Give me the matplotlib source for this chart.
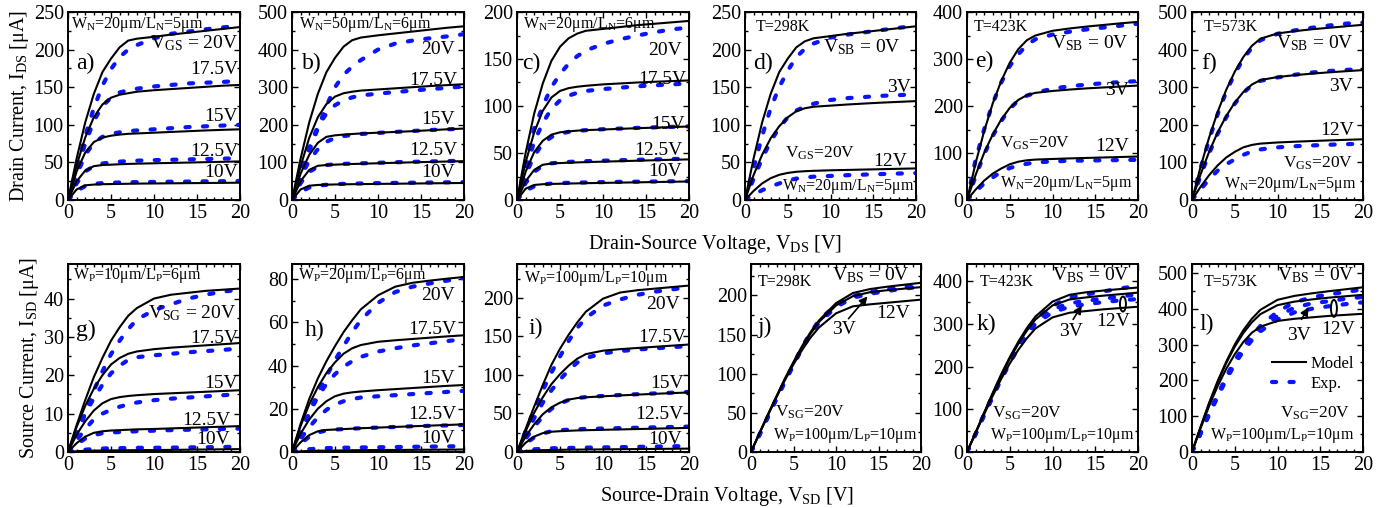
import matplotlib
matplotlib.use('Agg')
import matplotlib.pyplot as plt
from matplotlib.lines import Line2D
from matplotlib.patches import Ellipse
from matplotlib.ticker import MultipleLocator

plt.rcParams['font.family'] = ['Liberation Serif', 'DejaVu Serif']
plt.rcParams['mathtext.fontset'] = 'custom'
plt.rcParams['mathtext.rm'] = 'Liberation Serif'
plt.rcParams['mathtext.it'] = 'Liberation Serif:italic'

# === DATA ===
V = [0, 1, 2, 3, 4, 5, 6, 7, 8, 10, 12, 14, 16, 18, 20]

# a) nMOS W/L=20/5, VGS = 20, 17.5, 15, 12.5, 10 V
a_model = [[0, 55, 103, 141, 170, 188, 203, 212, 214.5, 217, 220, 222.5, 225, 227.5, 230],
           [0, 46, 83, 110, 127, 136, 140, 142, 144, 146, 147.5, 149, 150.5, 152, 153],
           [0, 38, 63, 77, 83, 85.5, 87, 88, 88.5, 89.5, 90.5, 91.5, 92.5, 93.3, 94],
           [0, 25, 39, 45, 46.5, 47, 47.5, 48, 48.3, 48.8, 49.3, 49.8, 50.3, 50.8, 51.3],
           [0, 14, 19.5, 20.5, 21, 21.2, 21.4, 21.6, 21.8, 22, 22.2, 22.4, 22.6, 22.8, 23]]
a_exp = [[0, 40, 85, 122, 152, 174, 190, 200, 206, 215, 221, 224, 227, 229.5, 232],
         [0, 38, 75, 105, 125, 136, 143, 146, 148, 151, 153, 155, 156, 157, 158.5],
         [0, 33, 60, 76, 84, 88, 90, 91.5, 92.5, 94, 95.5, 97, 98, 99, 100],
         [0, 22, 38, 45, 48.5, 50, 51, 51.8, 52.3, 53, 53.5, 54, 54.5, 55, 55.5],
         [0, 12, 18.5, 21.5, 22.5, 23, 23.3, 23.6, 23.8, 24, 24.3, 24.5, 24.8, 25, 25.3]]

# b) nMOS W/L=50/6
b_model = [[0, 110, 206, 282, 340, 378, 408, 425, 432, 438, 443, 448, 453, 458, 462],
           [0, 90, 165, 220, 255, 275, 284, 288, 291, 294, 297, 300, 303, 305.5, 308],
           [0, 70, 120, 152, 168, 172, 174, 175.5, 177, 179, 181, 183, 185.5, 188, 190],
           [0, 50, 80, 91, 93, 94, 95, 95.7, 96.4, 97.7, 99, 100.2, 101.3, 102.3, 103.3],
           [0, 28, 38, 40, 40.8, 41.3, 41.7, 42, 42.3, 42.8, 43.3, 43.8, 44.3, 44.8, 45.3]]
b_exp = [[0, 48, 130, 190, 250, 300, 333, 355, 372, 400, 416, 424, 430, 435, 441],
         [0, 75, 140, 195, 230, 252, 265, 273, 278, 283, 287, 291, 295, 298, 302],
         [0, 60, 105, 135, 155, 165, 170, 173, 175.5, 178.5, 181, 183.5, 186, 188, 190],
         [0, 45, 75, 88, 93, 95, 96, 97, 97.5, 99, 100.5, 101.5, 102.5, 103.5, 104.5],
         [0, 22, 33, 38, 40.5, 42, 43, 43.5, 44, 44.8, 45.5, 46, 46.5, 47, 47.5]]

# c) nMOS W/L=20/6
c_model = [[0, 50, 92, 124, 148, 163, 172, 177, 180, 182, 184, 186, 187.5, 189, 190.5],
           [0, 40, 72, 95, 109, 116, 119, 120.5, 121.5, 123, 124, 125, 125.8, 126.5, 127.2],
           [0, 30, 51, 63, 69.5, 72, 73, 73.8, 74.3, 75, 75.7, 76.4, 77, 77.6, 78.2],
           [0, 20, 32, 37.5, 38.8, 39.3, 39.7, 40, 40.3, 40.8, 41.3, 41.8, 42.3, 42.8, 43.2],
           [0, 12, 16, 16.8, 17.1, 17.3, 17.5, 17.7, 17.9, 18.2, 18.5, 18.8, 19.1, 19.4, 19.7]]
c_exp = [[0, 40, 76, 100, 120, 134, 145, 153, 159, 166, 171, 175, 178.5, 181.5, 183.5],
         [0, 33, 62, 82, 97, 106, 111, 114, 116, 118, 119.5, 121, 122, 123, 124],
         [0, 27, 47, 60, 67, 70.5, 72.5, 73.5, 74.3, 75.3, 76, 76.7, 77.3, 77.8, 78.3],
         [0, 18, 30, 36.5, 39, 40, 40.5, 41, 41.3, 41.8, 42.3, 42.8, 43.2, 43.6, 44],
         [0, 10, 14.5, 16.5, 17.5, 18, 18.3, 18.5, 18.7, 19, 19.3, 19.5, 19.7, 19.9, 20.1]]

# d) e) f) nMOS VGS=20V, VSB = 0, 3, 12 V at 298 / 423 / 573 K
d_model = [[0, 55, 103, 141, 170, 188, 203, 211, 215, 218, 221, 223.5, 226, 228.5, 231],
           [0, 33, 60, 82, 98, 110, 118, 122, 124, 125.5, 127, 128.3, 129.5, 130.5, 131.5],
           [0, 12, 22, 29, 33.5, 36, 37.5, 38.3, 38.8, 39.5, 40, 40.5, 41, 41.5, 42]]
d_exp = [[0, 42, 85, 122, 150, 172, 190, 201, 208, 216, 220, 223, 226, 229, 231.5],
         [0, 28, 55, 78, 96, 110, 119, 124, 128, 133, 135.5, 137, 138.5, 139.5, 140.5],
         [0, 7, 13, 18, 22, 26, 28.5, 30, 31, 32, 33, 33.8, 34.5, 35.2, 35.8]]

e_model = [[0, 78, 146, 205, 253, 292, 321, 340, 350, 360, 365, 369, 372.5, 376, 379],
           [0, 53, 100, 139, 171, 196, 213, 223, 228, 232, 235, 237.5, 239.5, 241.5, 243.5],
           [0, 22, 41, 56, 67, 76, 81.5, 84.5, 86, 87.3, 88.5, 89.5, 90.5, 91.5, 92.5]]
e_exp = [[0, 85, 150, 205, 250, 285, 310, 330, 342, 352, 358, 363, 367, 371, 375],
         [0, 50, 97, 136, 168, 194, 212, 222, 228, 237, 242, 245.5, 248.5, 251, 253],
         [0, 18, 35, 48, 60, 68, 73.5, 77, 80, 82, 83.5, 84, 84.5, 85, 85.5]]

f_model = [[0, 88, 166, 234, 293, 341, 380, 410, 429, 443, 449, 454, 458, 462, 466],
           [0, 68, 128, 180, 223, 259, 287, 307, 319, 327, 332, 336, 339.5, 342.5, 345.5],
           [0, 35, 66, 92, 113, 128, 140, 146.5, 150, 153, 155, 156.8, 158.5, 160, 161.5]]
f_exp = [[0, 85, 160, 228, 288, 336, 375, 405, 425, 442, 451, 458, 464, 469, 472],
         [0, 64, 124, 176, 220, 256, 285, 305, 317, 326, 333, 339, 343, 346, 348],
         [0, 28, 55, 78, 95, 108, 120, 129, 134.5, 140, 143, 145, 147, 148.5, 149.5]]

# g) h) i) pMOS, VSG = 20, 17.5, 15, 12.5, 10 V
g_model = [[0, 7, 13.5, 19.5, 24.5, 29, 32.5, 35.5, 37.5, 40, 41, 41.5, 42, 42.3, 42.6],
           [0, 6.5, 12, 16.5, 20, 22.8, 24.5, 25.6, 26.2, 26.8, 27.2, 27.5, 27.8, 28.1, 28.4],
           [0, 4.5, 8, 10.8, 12.7, 13.8, 14.3, 14.6, 14.8, 15.1, 15.3, 15.5, 15.7, 15.9, 16.1],
           [0, 2.3, 4, 5, 5.4, 5.6, 5.7, 5.8, 5.9, 6.0, 6.15, 6.3, 6.45, 6.6, 6.75],
           [0, 0.2, 0.3, 0.35, 0.4, 0.42, 0.44, 0.46, 0.48, 0.5, 0.55, 0.6, 0.65, 0.7, 0.75]]
g_exp = [[0, 4.5, 10, 16, 21, 25.5, 29, 32, 34.5, 37, 38.5, 40, 41, 41.8, 42.3],
         [0, 5, 10, 14, 17.5, 20.5, 22.5, 24, 24.7, 25.2, 25.6, 26, 26.3, 26.6, 27],
         [0, 3, 6, 8.5, 10, 11, 11.8, 12.4, 12.9, 13.5, 13.9, 14.2, 14.5, 14.8, 15.1],
         [0, 2, 3.5, 4.4, 4.9, 5.1, 5.2, 5.3, 5.4, 5.55, 5.7, 5.8, 5.9, 6.0, 6.1],
         [0, 0.3, 0.6, 0.8, 0.9, 1.0, 1.0, 1.05, 1.1, 1.1, 1.15, 1.2, 1.25, 1.3, 1.4]]

h_model = [[0, 13, 24.5, 34, 42, 49, 55.5, 61, 66, 72.5, 76.5, 78.3, 79.3, 80.2, 81],
           [0, 12, 22, 30, 36.5, 41.5, 45.5, 48, 49.5, 51, 51.7, 52.3, 52.9, 53.5, 54],
           [0, 8.5, 15, 20, 23.5, 25.8, 27, 27.6, 28, 28.6, 29.1, 29.6, 30.1, 30.6, 31],
           [0, 4.5, 7.8, 9.6, 10.2, 10.4, 10.6, 10.8, 11, 11.3, 11.6, 11.9, 12.2, 12.5, 12.8],
           [0, 0.3, 0.5, 0.6, 0.65, 0.7, 0.75, 0.8, 0.85, 0.9, 0.95, 1.0, 1.05, 1.1, 1.15]]
h_exp = [[0, 8, 18, 27.5, 35, 42.5, 49, 55.5, 61, 69, 74, 76.5, 78, 79.3, 80.5],
         [0, 9, 18, 25.5, 31.5, 36, 39.5, 42, 44, 46.5, 48, 49.3, 50.3, 51.3, 52.3],
         [0, 6, 11.5, 16, 19.5, 22, 23.5, 24.5, 25.2, 25.8, 26.3, 26.8, 27.3, 27.8, 28.3],
         [0, 4, 7, 9, 10, 10.4, 10.6, 10.8, 11, 11.3, 11.6, 11.9, 12.1, 12.3, 12.5],
         [0, 0.8, 1.3, 1.6, 1.8, 1.9, 2.0, 2.0, 2.1, 2.2, 2.3, 2.4, 2.5, 2.6, 2.7]]

i_model = [[0, 30, 59, 87, 113, 134, 152, 168, 182, 199, 207, 210, 212, 214, 216],
           [0, 27, 51, 71, 88, 101, 112, 121, 127, 131.5, 133.5, 135, 136.5, 138, 139.5],
           [0, 20, 36, 49, 58, 64, 68, 70, 71, 72.3, 73.4, 74.5, 75.5, 76.4, 77.3],
           [0, 12, 20, 24.5, 26.3, 27, 27.5, 28, 28.3, 28.8, 29.3, 29.8, 30.3, 30.8, 31.3],
           [0, 1.2, 2, 2.4, 2.6, 2.8, 3.0, 3.1, 3.2, 3.4, 3.6, 3.8, 4.0, 4.2, 4.4]]
i_exp = [[0, 27, 55, 80, 103, 124, 144, 161, 174, 190, 198, 204, 208, 211, 214],
         [0, 22, 44, 64, 80, 94, 106, 116, 122, 128, 131, 133, 134.5, 136, 137.5],
         [0, 17, 33, 46, 56, 63, 67.5, 70, 71.3, 72.7, 74, 75, 76, 77, 78],
         [0, 11, 19, 24, 27, 28.3, 29, 29.5, 30, 30.5, 31, 31.5, 32, 32.5, 33],
         [0, 2, 3.5, 4.3, 4.8, 5.0, 5.3, 5.5, 5.7, 6.0, 6.3, 6.7, 7.0, 7.4, 7.8]]

# j) k) l) pMOS VSG=20V, VBS = 0, 3, 12 V at 298 / 423 / 573 K
j_model = [[0, 24, 48, 71, 94, 115, 135, 153, 168, 190, 203, 208, 211, 213.5, 216],
           [0, 24, 48, 71, 93, 114, 134, 151, 166, 187, 199, 204, 206.5, 208.5, 210.5],
           [0, 24, 47, 70, 92, 112, 130, 146, 159, 177, 186, 188.5, 190.5, 192.5, 194.5]]
j_exp = [[0, 22, 45, 68, 90, 112, 134, 152, 168, 188, 199, 204, 208, 211, 213],
         [0, 22, 45, 68, 90, 111, 132, 150, 165, 185, 197, 202, 205.5, 208.5, 211]]

k_model = [[0, 45, 92, 138, 182, 222, 258, 290, 317, 352, 368, 374, 378, 381.5, 385],
           [0, 45, 91, 136, 179, 218, 253, 284, 310, 343, 357, 362, 366, 369.5, 373],
           [0, 44, 88, 131, 171, 207, 239, 266, 289, 315, 326, 330, 334, 337, 340]]
k_exp = [[0, 42, 88, 132, 174, 214, 252, 285, 310, 342, 362, 369, 376, 383, 389],
         [0, 42, 87, 130, 172, 211, 248, 280, 305, 334, 348, 354, 359, 364, 369],
         [0, 41, 86, 129, 170, 208, 244, 275, 300, 327, 340, 346, 351, 355, 358]]

l_model = [[0, 70, 137, 198, 252, 300, 340, 372, 397, 425, 436, 443, 449, 454.5, 460],
           [0, 69, 135, 195, 248, 294, 332, 362, 385, 410, 420, 426, 431, 435, 439],
           [0, 66, 128, 184, 232, 273, 307, 333, 350, 366, 372, 376, 380, 383, 386]]
l_exp = [[0, 53, 108, 160, 210, 255, 293, 325, 352, 392, 418, 432, 440, 447, 454],
         [0, 52, 106, 157, 206, 250, 287, 318, 343, 380, 403, 415, 421, 428, 433],
         [0, 51, 104, 154, 202, 245, 282, 312, 337, 370, 390, 400, 407, 413, 418]]

# === LAYOUT (pixel boxes) ===
W, H = 1388, 508
fig = plt.figure(figsize=(W / 100, H / 100), dpi=100)

def make_ax(l, r, t, b, ymax, ymajor):
    ax = fig.add_axes([l / W, 1 - b / H, (r - l) / W, (b - t) / H])
    ax.set_xlim(0, 20)
    ax.set_ylim(0, ymax)
    ax.xaxis.set_major_locator(MultipleLocator(5))
    ax.xaxis.set_minor_locator(MultipleLocator(1))
    ax.yaxis.set_major_locator(MultipleLocator(ymajor))
    ax.yaxis.set_minor_locator(MultipleLocator(ymajor / 2))
    ax.tick_params(which='both', direction='in', top=True, right=True,
                   labelsize=14.5, width=1.0, pad=3)
    ax.tick_params(which='major', length=4.5)
    ax.tick_params(which='minor', length=2.5)
    for s in ax.spines.values():
        s.set_linewidth(1.4)
    return ax

def curves(ax, model, exp):
    for y in exp:
        ax.plot(V, y, color='#0a14ff', lw=3.0, dashes=(1.0, 3.2),
                dash_capstyle='round', solid_capstyle='round', zorder=2)
    for y in model:
        ax.plot(V, y, color='black', lw=1.5, zorder=3)

def txt(ax, x, y, s, ha='left', fs=14):
    ax.text(x, y, s, transform=ax.transAxes, ha=ha, va='center', fontsize=fs)

WN5 = r'W$_\mathrm{N}$=20μm/L$_\mathrm{N}$=5μm'
WP100 = r'W$_\mathrm{P}$=100μm/L$_\mathrm{P}$=10μm'
SM = 11.5
MD = 12.5

# --- row 1 ---
ax = make_ax(68, 240, 12, 200, 250, 50)
curves(ax, a_model, a_exp)
txt(ax, 0.02, 0.936, WN5, fs=SM)
txt(ax, 0.99, 0.833, r'V$_\mathrm{GS}$ = 20V', 'right')
txt(ax, 0.047, 0.727, 'a)', fs=17)
txt(ax, 0.99, 0.695, '17.5V', 'right')
txt(ax, 0.99, 0.443, '15V', 'right')
txt(ax, 0.99, 0.257, '12.5V', 'right')
txt(ax, 0.99, 0.145, '10V', 'right')
ax.set_ylabel(r'Drain Current, I$_\mathrm{DS}$ [μA]', fontsize=14.5, labelpad=2)

ax = make_ax(292, 464, 12, 200, 500, 100)
curves(ax, b_model, b_exp)
txt(ax, 0.04, 0.936, r'W$_\mathrm{N}$=50μm/L$_\mathrm{N}$=6μm', fs=SM)
txt(ax, 0.056, 0.727, 'b)', fs=17)
txt(ax, 0.948, 0.80, '20V', 'right')
txt(ax, 0.96, 0.638, '17.5V', 'right')
txt(ax, 0.948, 0.43, '15V', 'right')
txt(ax, 0.96, 0.262, '12.5V', 'right')
txt(ax, 0.948, 0.145, '10V', 'right')

ax = make_ax(517, 689, 12, 200, 200, 50)
curves(ax, c_model, c_exp)
txt(ax, 0.037, 0.936, r'W$_\mathrm{N}$=20μm/L$_\mathrm{N}$=6μm', fs=SM)
txt(ax, 0.027, 0.727, 'c)', fs=17)
txt(ax, 0.96, 0.794, '20V', 'right')
txt(ax, 0.985, 0.642, '17.5V', 'right')
txt(ax, 0.975, 0.404, '15V', 'right')
txt(ax, 0.96, 0.262, '12.5V', 'right')
txt(ax, 0.96, 0.15, '10V', 'right')
ax.set_xlabel(r'Drain-Source Voltage, V$_\mathrm{DS}$ [V]', fontsize=14.5, labelpad=1)
ax.xaxis.set_label_coords(1.15, -0.175)

ax = make_ax(745, 916, 12, 200, 250, 50)
curves(ax, d_model, d_exp)
txt(ax, 0.064, 0.922, 'T=298K', fs=SM)
txt(ax, 0.045, 0.727, 'd)', fs=17)
txt(ax, 0.91, 0.815, r'V$_\mathrm{SB}$ = 0V', 'right')
txt(ax, 0.97, 0.60, '3V', 'right')
txt(ax, 0.233, 0.248, r'V$_\mathrm{GS}$=20V', fs=MD)
txt(ax, 0.95, 0.207, '12V', 'right')
txt(ax, 0.988, 0.071, WN5, 'right', fs=SM)

ax = make_ax(967, 1138, 12, 200, 400, 100)
curves(ax, e_model, e_exp)
txt(ax, 0.037, 0.922, 'T=423K', fs=SM)
txt(ax, 0.047, 0.736, 'e)', fs=17)
txt(ax, 0.948, 0.833, r'V$_\mathrm{SB}$ = 0V', 'right')
txt(ax, 0.948, 0.585, '3V', 'right')
txt(ax, 0.192, 0.30, r'V$_\mathrm{GS}$=20V', fs=MD)
txt(ax, 0.948, 0.287, '12V', 'right')
txt(ax, 0.192, 0.089, WN5, fs=SM)

ax = make_ax(1192, 1363, 12, 200, 500, 100)
curves(ax, f_model, f_exp)
txt(ax, 0.066, 0.922, 'T=573K', fs=SM)
txt(ax, 0.056, 0.727, 'f)', fs=17)
txt(ax, 0.948, 0.833, r'V$_\mathrm{SB}$ = 0V', 'right')
txt(ax, 0.94, 0.603, '3V', 'right')
txt(ax, 0.948, 0.372, '12V', 'right')
txt(ax, 0.94, 0.195, r'V$_\mathrm{GS}$=20V', 'right', fs=MD)
txt(ax, 0.96, 0.08, WN5, 'right', fs=SM)

# --- row 2 ---
ax = make_ax(68, 240, 264, 452, 49, 10)
curves(ax, g_model, g_exp)
txt(ax, 0.027, 0.941, r'W$_\mathrm{P}$=10μm/L$_\mathrm{P}$=6μm', fs=SM)
txt(ax, 0.98, 0.738, r'V$_\mathrm{SG}$ = 20V', 'right')
txt(ax, 0.047, 0.649, 'g)', fs=17)
txt(ax, 0.99, 0.605, '17.5V', 'right')
txt(ax, 0.99, 0.362, '15V', 'right')
txt(ax, 0.942, 0.17, '12.5V', 'right')
txt(ax, 0.942, 0.064, '10V', 'right')
ax.set_ylabel(r'Source Current, I$_\mathrm{SD}$ [μA]', fontsize=14.5, labelpad=2)

ax = make_ax(292, 464, 264, 452, 87, 20)
curves(ax, h_model, h_exp)
txt(ax, 0.033, 0.941, r'W$_\mathrm{P}$=20μm/L$_\mathrm{P}$=6μm', fs=SM)
txt(ax, 0.948, 0.831, '20V', 'right')
txt(ax, 0.075, 0.649, 'h)', fs=17)
txt(ax, 0.957, 0.652, '17.5V', 'right')
txt(ax, 0.948, 0.392, '15V', 'right')
txt(ax, 0.955, 0.197, '12.5V', 'right')
txt(ax, 0.948, 0.073, '10V', 'right')

ax = make_ax(517, 689, 264, 452, 244, 50)
curves(ax, i_model, i_exp)
txt(ax, 0.041, 0.924, r'W$_\mathrm{P}$=100μm/L$_\mathrm{P}$=10μm', fs=SM)
txt(ax, 0.948, 0.782, '20V', 'right')
txt(ax, 0.066, 0.658, 'i)', fs=17)
txt(ax, 0.987, 0.61, '17.5V', 'right')
txt(ax, 0.97, 0.365, '15V', 'right')
txt(ax, 0.97, 0.197, '12.5V', 'right')
txt(ax, 0.958, 0.064, '10V', 'right')
ax.set_xlabel(r'Source-Drain Voltage, V$_\mathrm{SD}$ [V]', fontsize=14.5, labelpad=1)
ax.xaxis.set_label_coords(1.22, -0.175)

ax = make_ax(751, 921, 264, 452, 240, 50)
curves(ax, j_model, j_exp)
txt(ax, 0.039, 0.906, 'T=298K', fs=SM)
txt(ax, 0.935, 0.941, r'V$_\mathrm{BS}$ = 0V', 'right')
txt(ax, 0.039, 0.663, 'j)', fs=17)
txt(ax, 0.935, 0.738, '12V', 'right')
txt(ax, 0.475, 0.649, '3V')
ax.annotate('', xy=(0.696, 0.839), xytext=(0.563, 0.698), xycoords='axes fraction',
            arrowprops=dict(arrowstyle='-|>', color='black', lw=1.2, mutation_scale=12))
txt(ax, 0.141, 0.209, r'V$_\mathrm{SG}$=20V', fs=MD)
txt(ax, 0.13, 0.09, WP100, fs=SM)

ax = make_ax(967, 1138, 264, 452, 440, 100)
curves(ax, k_model, k_exp)
txt(ax, 0.072, 0.906, 'T=423K', fs=SM)
txt(ax, 0.953, 0.941, r'V$_\mathrm{BS}$ = 0V', 'right')
txt(ax, 0.057, 0.676, 'k)', fs=17)
txt(ax, 0.54, 0.64, '3V')
ax.annotate('', xy=(0.68, 0.791), xytext=(0.612, 0.693), xycoords='axes fraction',
            arrowprops=dict(arrowstyle='-|>', color='black', lw=1.2, mutation_scale=12))
ax.add_patch(Ellipse((0.912, 0.787), 0.035, 0.08, transform=ax.transAxes,
                     fill=False, lw=1.4, zorder=4))
txt(ax, 0.953, 0.693, '12V', 'right')
txt(ax, 0.144, 0.205, r'V$_\mathrm{SG}$=20V', fs=MD)
txt(ax, 0.135, 0.09, WP100, fs=SM)

ax = make_ax(1192, 1363, 264, 452, 525, 100)
curves(ax, l_model, l_exp)
txt(ax, 0.066, 0.906, 'T=573K', fs=SM)
txt(ax, 0.953, 0.941, r'V$_\mathrm{BS}$ = 0V', 'right')
txt(ax, 0.043, 0.676, 'l)', fs=17)
txt(ax, 0.553, 0.622, '3V')
ax.annotate('', xy=(0.69, 0.782), xytext=(0.632, 0.693), xycoords='axes fraction',
            arrowprops=dict(arrowstyle='-|>', color='black', lw=1.2, mutation_scale=12))
ax.add_patch(Ellipse((0.83, 0.764), 0.035, 0.09, transform=ax.transAxes,
                     fill=False, lw=1.4, zorder=4))
txt(ax, 0.953, 0.649, '12V', 'right')
txt(ax, 0.924, 0.205, r'V$_\mathrm{SG}$=20V', 'right', fs=MD)
txt(ax, 0.953, 0.09, WP100, 'right', fs=SM)
handles = [Line2D([], [], color='black', lw=1.5),
           Line2D([], [], color='#0a14ff', lw=3.0, dashes=(1.0, 3.2), dash_capstyle='round')]
ax.legend(handles, ['Model', 'Exp.'], loc='upper left', bbox_to_anchor=(0.47, 0.51),
          frameon=False, fontsize=12, handlelength=2.0, handletextpad=0.3,
          labelspacing=0.25, borderpad=0, borderaxespad=0)

fig.savefig('out.png', dpi=100)
